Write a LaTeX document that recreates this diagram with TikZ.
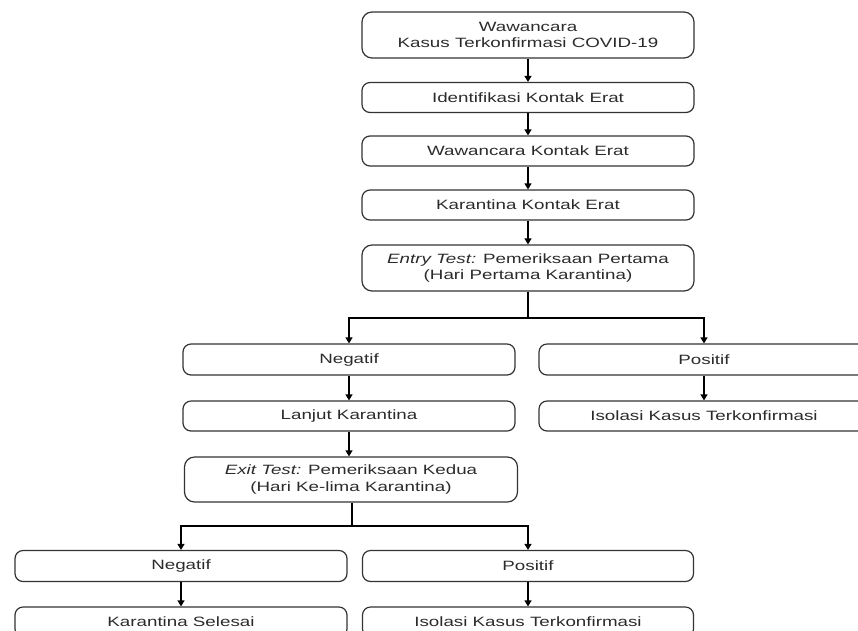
\documentclass[tikz,border=0pt]{standalone}
\usepackage{fontspec}
\setmainfont{Liberation Sans}[FakeStretch=1.39]
\usepackage{tikz}
\usetikzlibrary{arrows.meta}
\definecolor{boxline}{HTML}{333333}
\definecolor{boxtext}{HTML}{2B2B2B}

\begin{document}
\begin{tikzpicture}[x=1pt,y=-1pt,line width=1.2pt]
	\tikzstyle{step box}=[draw=boxline,rounded corners=8pt,minimum width=332pt,minimum height=30pt,inner sep=0pt,align=center,text=boxtext,font=\fontsize{13.5}{16.5}\selectfont]
	\tikzstyle{tall box}=[step box,minimum height=46pt,rounded corners=10pt]
	\tikzstyle{arr}=[draw=black,-{Triangle[length=6pt,width=7pt]}]
	\tikzstyle{split line}=[draw=black]
	
	\useasboundingbox (0,0) rectangle (858,630);
	
	% Draw the main column
	\node[tall box] (W1) at (528,35) {Wawancara\\Kasus Terkonfirmasi COVID-19};
	\foreach \name / \y / \txt in {ID/97.5/Identifikasi Kontak Erat,WK/151/Wawancara Kontak Erat,KK/205/Karantina Kontak Erat}
	\node[step box] (\name) at (528,\y) {\txt};
	\node[tall box] (ET) at (528,268) {\textit{Entry Test:} Pemeriksaan Pertama\\(Hari Pertama Karantina)};
	
	% Draw the results of the entry test
	\node[step box,minimum height=31pt] (N1) at (349,359.5) {Negatif};
	\node[step box,minimum height=31pt,minimum width=330pt] (P1) at (704,359.5) {Positif};
	\node[step box] (LK) at (349,416) {Lanjut Karantina};
	\node[step box,minimum width=330pt] (I1) at (704,416) {Isolasi Kasus Terkonfirmasi};
	\node[tall box,minimum height=45pt,minimum width=333pt] (XT) at (351,479.5) {\textit{Exit Test:} Pemeriksaan Kedua\\(Hari Ke-lima Karantina)};
	
	% Draw the results of the exit test
	\node[step box,minimum height=31pt] (N2) at (181,566) {Negatif};
	\node[step box,minimum height=31pt,minimum width=331pt] (P2) at (528,566) {Positif};
	\node[step box] (KS) at (181,622) {Karantina Selesai};
	\node[step box,minimum width=331pt] (I2) at (528,622) {Isolasi Kasus Terkonfirmasi};
	
	% Connect the main column
	\foreach \source / \dest in {W1/ID,ID/WK,WK/KK,KK/ET,N1/LK,P1/I1,N2/KS,P2/I2}
	\draw[arr] (\source) -- (\dest);
	\draw[arr] (LK) -- (LK |- XT.north);
	
	% Split after the tests
	\coordinate (S1) at (528,318);
	\coordinate (S2) at (352,526);
	\draw[split line] (ET) -- (S1);
	\draw[arr] (S1) -| (N1);
	\draw[arr] (S1) -| (P1);
	\draw[split line] (XT.south -| S2) -- (S2);
	\draw[arr] (S2) -| (N2);
	\draw[arr] (S2) -| (P2);
\end{tikzpicture}
\end{document}
